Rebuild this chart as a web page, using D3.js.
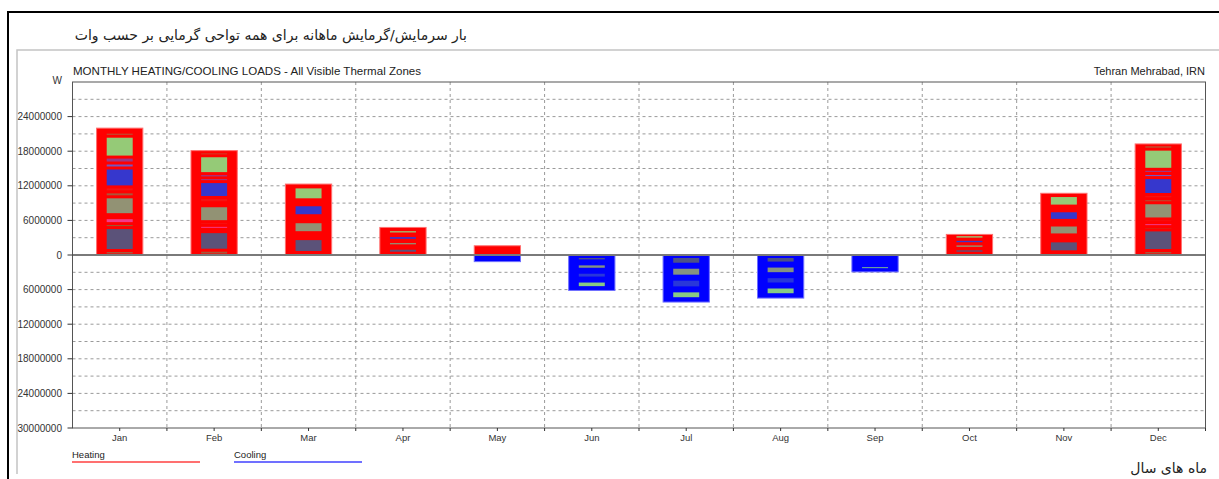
<!DOCTYPE html>
<html>
<head>
<meta charset="utf-8">
<script src="https://d3js.org/d3.v7.min.js"></script>
<style>
  body { margin: 0; background: #fff; }
  svg text { font-family: "Liberation Sans", Arial, sans-serif; }
  .fa { font-family: "DejaVu Sans", "Noto Sans", sans-serif; }
</style>
</head>
<body>
<div id="chart"></div>
<script>
// months and totals (W)
var months = ["Jan", "Feb", "Mar", "Apr", "May", "Jun", "Jul", "Aug", "Sep", "Oct", "Nov", "Dec"];
var heatingTotal = [22000000, 18100000, 12300000, 4780000, 1600000, 0, 0, 0, 0, 3570000, 10700000, 19260000];
var coolingTotal = [0, 0, 0, 0, 1150000, 6150000, 8160000, 7470000, 2930000, 0, 0, 0];

// thermal zones, bottom of stack first
var zoneNames = ["Zone 1", "Zone 2", "Zone 3", "Zone 4", "Zone 5", "Zone 6", "Zone 7",
                 "Zone 8", "Zone 9", "Zone 10", "Zone 11", "Zone 12", "Zone 13"];
var zoneColors = ["#a65a3c", "#525680", "#8a6a3a", "#f23d91", "#f41414", "#8c9a7a", "#a65a3c",
                  "#f41414", "#2b3ad8", "#6c5ccc", "#9a3a8a", "#8fd57d", "#b0603a"];

// heating per zone, millions of W
var zone1Heat  = [0.78, 0.83, 0.43, 0.31, 0.10, 0, 0, 0, 0, 0.31, 0.55, 0.78];
var zone2Heat  = [3.97, 3.22, 2.41, 0.86, 0.35, 0, 0, 0, 0, 0.76, 1.90, 3.57];
var zone3Heat  = [0.69, 0.40, 0.43, 0.14, 0.05, 0, 0, 0, 0, 0.03, 0.52, 0.57];
var zone4Heat  = [1.03, 0.69, 0.43, 0.14, 0.05, 0, 0, 0, 0, 0.03, 0.34, 0.69];
var zone5Heat  = [0.52, 0.64, 0.17, 0.14, 0.05, 0, 0, 0, 0, 0.03, 0.17, 0.64];
var zone6Heat  = [3.10, 2.76, 1.90, 0.74, 0.25, 0, 0, 0, 0, 0.76, 1.72, 2.81];
var zone7Heat  = [0.86, 0.52, 0.52, 0.11, 0.05, 0, 0, 0, 0, 0.02, 0.40, 0.69];
var zone8Heat  = [0.86, 0.91, 0.52, 0.11, 0.05, 0, 0, 0, 0, 0.02, 0.40, 0.74];
var zone9Heat  = [3.28, 2.76, 1.90, 0.81, 0.25, 0, 0, 0, 0, 0.76, 1.67, 2.93];
var zone10Heat = [0.86, 0.64, 0.43, 0.15, 0.05, 0, 0, 0, 0, 0.02, 0.43, 0.72];
var zone11Heat = [1.03, 0.74, 0.43, 0.14, 0.05, 0, 0, 0, 0, 0.02, 0.38, 0.72];
var zone12Heat = [3.62, 3.10, 2.24, 0.74, 0.20, 0, 0, 0, 0, 0.76, 1.83, 3.50];
var zone13Heat = [0.69, 0.64, 0.17, 0.05, 0.02, 0, 0, 0, 0, 0.02, 0.21, 0.74];

// cooling per zone, millions of W
var zone1Cool  = [0, 0, 0, 0, 0, 0, 0, 0, 0, 0, 0, 0];
var zone2Cool  = [0, 0, 0, 0, 0.30, 1.28, 1.86, 1.66, 0.50, 0, 0, 0];
var zone3Cool  = [0, 0, 0, 0, 0, 0, 0, 0, 0, 0, 0, 0];
var zone4Cool  = [0, 0, 0, 0, 0, 0, 0, 0, 0, 0, 0, 0];
var zone5Cool  = [0, 0, 0, 0, 0, 0, 0, 0, 0, 0, 0, 0];
var zone6Cool  = [0, 0, 0, 0, 0.25, 1.45, 2.07, 1.84, 0.50, 0, 0, 0];
var zone7Cool  = [0, 0, 0, 0, 0, 0, 0, 0, 0, 0, 0, 0];
var zone8Cool  = [0, 0, 0, 0, 0, 0, 0, 0, 0, 0, 0, 0];
var zone9Cool  = [0, 0, 0, 0, 0.25, 1.53, 2.03, 1.79, 0.60, 0, 0, 0];
var zone10Cool = [0, 0, 0, 0, 0, 0, 0, 0, 0, 0, 0, 0];
var zone11Cool = [0, 0, 0, 0, 0, 0, 0, 0, 0, 0, 0, 0];
var zone12Cool = [0, 0, 0, 0, 0.25, 1.66, 1.88, 1.86, 1.20, 0, 0, 0];
var zone13Cool = [0, 0, 0, 0, 0, 0, 0, 0, 0, 0, 0, 0];

var yTicks = [-30000000, -24000000, -18000000, -12000000, -6000000, 0, 6000000, 12000000, 18000000, 24000000];

var zoneHeat = [zone1Heat, zone2Heat, zone3Heat, zone4Heat, zone5Heat, zone6Heat, zone7Heat,
                zone8Heat, zone9Heat, zone10Heat, zone11Heat, zone12Heat, zone13Heat];
var zoneCool = [zone1Cool, zone2Cool, zone3Cool, zone4Cool, zone5Cool, zone6Cool, zone7Cool,
                zone8Cool, zone9Cool, zone10Cool, zone11Cool, zone12Cool, zone13Cool];

var W = 1219, H = 479;
var svg = d3.select("#chart").append("svg").attr("width", W).attr("height", H);

// outer frames
svg.append("path").attr("d", "M8,479 L8,12 L1219,12")
   .attr("fill", "none").attr("stroke", "#000").attr("stroke-width", 2);
svg.append("path").attr("d", "M17,474 L17,50 L1219,50")
   .attr("fill", "none").attr("stroke", "#c4c4c4").attr("stroke-width", 1.5);

svg.append("text").attr("class", "fa")
   .attr("x", 467).attr("y", 40)
   .attr("text-anchor", "start").attr("direction", "rtl")
   .style("font-size", "14px").attr("fill", "#222")
   .text("بار سرمایش/گرمایش ماهانه برای همه تواحی گرمایی بر حسب وات");

svg.append("text").attr("class", "fa")
   .attr("x", 1207).attr("y", 473)
   .attr("text-anchor", "start").attr("direction", "rtl")
   .style("font-size", "14px").attr("fill", "#222")
   .text("ماه های سال");

// plot box ("top" is reserved by window, so pl* names)
var plLeft = 72.5, plRight = 1205.5, plTop = 82, plBottom = 428;
var x = d3.scaleBand().domain(months).range([plLeft, plRight]).padding(0);
var y = d3.scaleLinear().domain([-30000000, 30000000]).range([plBottom, plTop]);

// grid: horizontal every 3M, vertical at month boundaries
var g = svg.append("g");
d3.range(-27000000, 30000000, 3000000).forEach(function (v) {
  if (v === 0) return;
  g.append("line").attr("x1", plLeft).attr("x2", plRight).attr("y1", y(v)).attr("y2", y(v))
   .attr("stroke", "#9a9a9a").attr("stroke-dasharray", "3,3");
});
months.slice(1).forEach(function (m) {
  g.append("line").attr("x1", x(m)).attr("x2", x(m)).attr("y1", plTop).attr("y2", plBottom)
   .attr("stroke", "#9a9a9a").attr("stroke-dasharray", "3,3");
});

var outerW = x.bandwidth() * 0.49, innerW = 26;

// total bars
months.forEach(function (m, i) {
  var cx = x(m) + x.bandwidth() / 2;
  if (heatingTotal[i] > 0) {
    svg.append("rect").attr("x", cx - outerW / 2).attr("width", outerW)
       .attr("y", y(heatingTotal[i])).attr("height", y(0) - y(heatingTotal[i]))
       .attr("fill", "#ff0000").attr("stroke", "#ff7070").attr("stroke-width", 1);
  }
  if (coolingTotal[i] > 0) {
    svg.append("rect").attr("x", cx - outerW / 2).attr("width", outerW)
       .attr("y", y(0)).attr("height", y(-coolingTotal[i]) - y(0))
       .attr("fill", "#0000ff").attr("stroke", "#7070ff").attr("stroke-width", 1);
  }
});

// zone blocks inside each bar
function drawZones(series, sign, inset) {
  months.forEach(function (m, i) {
    var cx = x(m) + x.bandwidth() / 2;
    var acc = 0;
    series.forEach(function (arr, z) {
      var v = arr[i] * 1000000;
      var a = y(sign * acc), b = y(sign * (acc + v));
      acc += v;
      var y0 = Math.min(a, b) + inset, h = Math.abs(a - b) - 2 * inset;
      if (h <= 0.2) return;
      svg.append("rect").attr("x", cx - innerW / 2).attr("width", innerW)
         .attr("y", y0).attr("height", h)
         .attr("fill", zoneColors[z]).attr("fill-opacity", 0.95);
    });
  });
}
drawZones(zoneHeat, 1, 1.5);
drawZones(zoneCool, -1, 3);

// zero line
svg.append("line").attr("x1", plLeft).attr("x2", plRight).attr("y1", y(0)).attr("y2", y(0))
   .attr("stroke", "#7a7a7a").attr("stroke-width", 2);

// plot frame
svg.append("rect").attr("x", plLeft).attr("y", plTop).attr("width", plRight - plLeft).attr("height", plBottom - plTop)
   .attr("fill", "none").attr("stroke", "#555").attr("stroke-width", 1);

// y axis ticks and labels (cooling side shown without sign)
yTicks.forEach(function (v) {
  svg.append("line").attr("x1", plLeft - 5).attr("x2", plLeft).attr("y1", y(v)).attr("y2", y(v))
     .attr("stroke", "#333");
  svg.append("text").attr("x", 62).attr("y", y(v) + 3.5).attr("text-anchor", "end")
     .style("font-size", "10px").attr("fill", "#333")
     .text(Math.abs(v));
});
svg.append("text").attr("x", 62).attr("y", 84).attr("text-anchor", "end")
   .style("font-size", "10px").attr("fill", "#333").text("W");

// x axis ticks and month labels
months.forEach(function (m) {
  var cx = x(m) + x.bandwidth() / 2;
  svg.append("line").attr("x1", cx).attr("x2", cx).attr("y1", plBottom).attr("y2", plBottom + 3).attr("stroke", "#333");
  svg.append("line").attr("x1", x(m) + x.bandwidth()).attr("x2", x(m) + x.bandwidth())
     .attr("y1", plBottom).attr("y2", plBottom + 3).attr("stroke", "#333");
  svg.append("text").attr("x", cx).attr("y", 441).attr("text-anchor", "middle")
     .style("font-size", "9.5px").attr("fill", "#333").text(m);
});

// chart captions
svg.append("text").attr("x", 73).attr("y", 75)
   .attr("textLength", 348).attr("lengthAdjust", "spacingAndGlyphs")
   .style("font-size", "11px").attr("fill", "#222")
   .text("MONTHLY HEATING/COOLING LOADS - All Visible Thermal Zones");
svg.append("text").attr("x", 1205).attr("y", 75).attr("text-anchor", "end")
   .style("font-size", "11px").attr("fill", "#222")
   .text("Tehran Mehrabad, IRN");

// legend
var legend = [{ name: "Heating", color: "#ff4040", x: 72 }, { name: "Cooling", color: "#4040ff", x: 234 }];
legend.forEach(function (d) {
  svg.append("text").attr("x", d.x).attr("y", 458).style("font-size", "9.5px").attr("fill", "#222").text(d.name);
  svg.append("line").attr("x1", d.x).attr("x2", d.x + 128).attr("y1", 462).attr("y2", 462)
     .attr("stroke", d.color).attr("stroke-width", 1.5);
});
</script>
</body>
</html>
